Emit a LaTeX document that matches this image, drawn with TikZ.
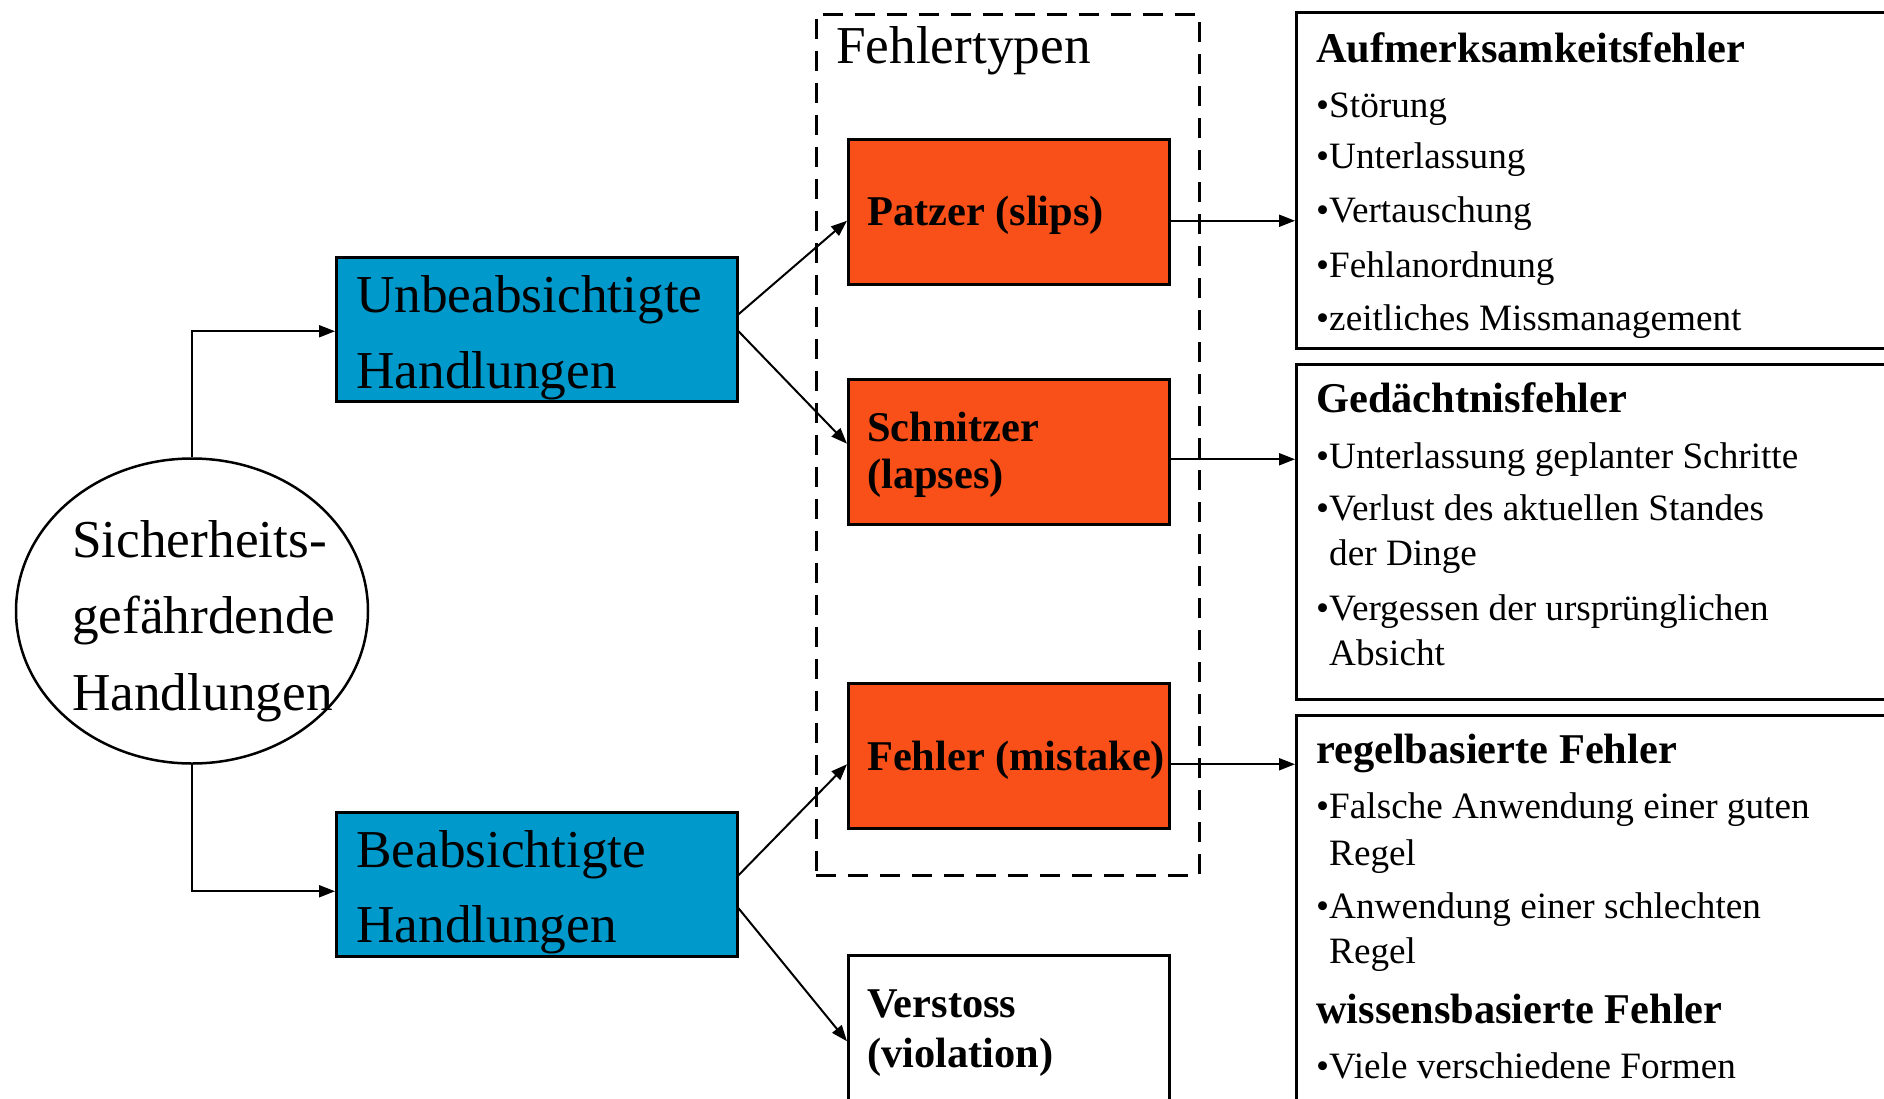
\documentclass[tikz,border=0pt]{standalone}
\usepackage{fontspec}
\setmainfont{Liberation Serif}
\usetikzlibrary{arrows.meta,shapes.geometric}
\definecolor{actblue}{RGB}{0,153,204}
\definecolor{errorange}{RGB}{248,80,24}
\tikzset{
  frame/.style={draw, line width=2.5pt, inner sep=0pt, anchor=north west},
  bluebox/.style={frame, fill=actblue},
  orangebox/.style={frame, fill=errorange},
  whitebox/.style={frame, fill=white},
  line/.style={anchor=base west, inner sep=0pt},
  bigtext/.style={line, font=\fontsize{53.3}{64}\selectfont},
  boldtext/.style={line, font=\fontsize{42.4}{50}\selectfont\bfseries},
  itemtext/.style={line, font=\fontsize{37.2}{45}\selectfont},
  arrow/.style={line width=2pt, -{Triangle[length=16pt,width=12pt]}}
}
\begin{document}
\begin{tikzpicture}[x=1pt,y=-1pt]
\useasboundingbox (0,0) rectangle (1884,1098);

% dashed frame around the error types
\node[frame, dashed, dash pattern=on 20pt off 12pt, minimum width=383pt, minimum height=861pt] (types) at (815,13) {};
\node[bigtext] (typestitle) at (836,63) {Fehlertypen};

% starting ellipse
\node[draw, line width=2.5pt, ellipse, minimum width=352pt, minimum height=305pt, inner sep=0pt] (ell) at (192,611) {};
\node[bigtext] (ell1) at (72,557) {Sicherheits-};
\node[bigtext] (ell2) at (72,633) {gefährdende};
\node[bigtext] (ell3) at (72,710) {Handlungen};

% action boxes
\node[bluebox, minimum width=401pt, minimum height=144pt] (ub) at (335,256) {};
\node[bigtext] (ub1) at (356,312) {Unbeabsichtigte};
\node[bigtext] (ub2) at (356,388) {Handlungen};

\node[bluebox, minimum width=401pt, minimum height=144pt] (b) at (335,811) {};
\node[bigtext] (b1) at (356,867) {Beabsichtigte};
\node[bigtext] (b2) at (356,942) {Handlungen};

% error type boxes
\node[orangebox, minimum width=321pt, minimum height=145pt] (pz) at (847,138) {};
\node[boldtext] (pz1) at (867,225) {Patzer (slips)};

\node[orangebox, minimum width=321pt, minimum height=145pt] (sn) at (847,378) {};
\node[boldtext] (sn1) at (867,441) {Schnitzer};
\node[boldtext] (sn2) at (867,488) {(lapses)};

\node[orangebox, minimum width=321pt, minimum height=145pt] (fe) at (847,682) {};
\node[boldtext] (fe1) at (867,770) {Fehler (mistake)};

\node[whitebox, minimum width=321pt, minimum height=170pt] (vs) at (847,954) {};
\node[boldtext] (vs1) at (867,1017) {Verstoss};
\node[boldtext] (vs2) at (867,1067) {(violation)};

% description boxes
\node[whitebox, minimum width=620pt, minimum height=336pt] (r1) at (1295,11) {};
\node[boldtext] (r1h) at (1316,62) {Aufmerksamkeitsfehler};
\node[itemtext] (r1a) at (1316,117) {•Störung};
\node[itemtext] (r1b) at (1316,168) {•Unterlassung};
\node[itemtext] (r1c) at (1316,222) {•Vertauschung};
\node[itemtext] (r1d) at (1316,277) {•Fehlanordnung};
\node[itemtext] (r1e) at (1316,330) {•zeitliches Missmanagement};

\node[whitebox, minimum width=620pt, minimum height=335pt] (r2) at (1295,363) {};
\node[boldtext] (r2h) at (1316,412) {Gedächtnisfehler};
\node[itemtext] (r2a) at (1316,468) {•Unterlassung geplanter Schritte};
\node[itemtext] (r2b) at (1316,520) {•Verlust des aktuellen Standes};
\node[itemtext] (r2c) at (1316,565) {\hphantom{•}der Dinge};
\node[itemtext] (r2d) at (1316,620) {•Vergessen der ursprünglichen};
\node[itemtext] (r2e) at (1316,665) {\hphantom{•}Absicht};

\node[whitebox, minimum width=620pt, minimum height=400pt] (r3) at (1295,714) {};
\node[boldtext] (r3h) at (1316,763) {regelbasierte Fehler};
\node[itemtext] (r3a) at (1316,818) {•Falsche Anwendung einer guten};
\node[itemtext] (r3b) at (1316,865) {\hphantom{•}Regel};
\node[itemtext] (r3c) at (1316,918) {•Anwendung einer schlechten};
\node[itemtext] (r3d) at (1316,963) {\hphantom{•}Regel};
\node[boldtext] (r3k) at (1316,1023) {wissensbasierte Fehler};
\node[itemtext] (r3e) at (1316,1078) {•Viele verschiedene Formen};

% connectors
\draw[arrow] (ell.north) |- ([yshift=-2pt]ub.west);
\draw[arrow] (ell.south) |- ([yshift=-7pt]b.west);
\draw[arrow] ([yshift=15pt]ub.east) -- ([yshift=-9pt]pz.west);
\draw[arrow] ([yshift=-2pt]ub.east) -- ([yshift=8pt]sn.west);
\draw[arrow] ([yshift=9pt]b.east) -- ([yshift=-8.5pt]fe.west);
\draw[arrow] ([yshift=-24pt]b.east) -- ([yshift=-1pt]vs.west);
\draw[arrow] ([yshift=-9pt]pz.east) -- ([yshift=-9pt]pz.east -| r1.west);
\draw[arrow] ([yshift=-7.5pt]sn.east) -- ([yshift=-7.5pt]sn.east -| r2.west);
\draw[arrow] ([yshift=-8.5pt]fe.east) -- ([yshift=-8.5pt]fe.east -| r3.west);
\end{tikzpicture}
\end{document}
